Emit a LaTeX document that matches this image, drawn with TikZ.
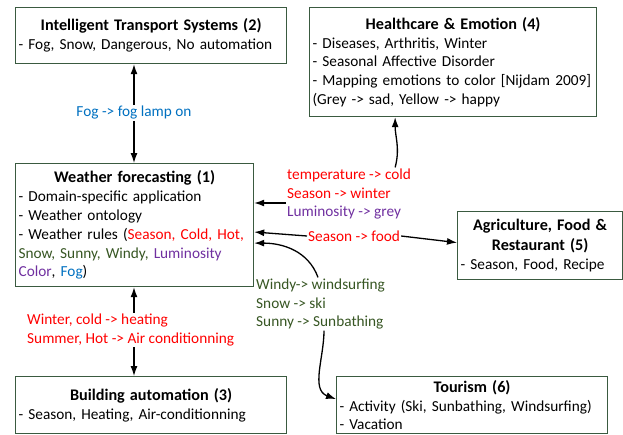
\documentclass[tikz,border=0pt]{standalone}
\usepackage{fontspec}
\setmainfont{Carlito}
\usetikzlibrary{arrows.meta,positioning}

\definecolor{boxline}{HTML}{3A5A40}
\definecolor{rulered}{HTML}{FF0000}
\definecolor{rulepurple}{HTML}{7030A0}
\definecolor{ruleblue}{HTML}{0070C0}
\definecolor{rulegreen}{HTML}{375623}

\newcommand{\boxtitle}[1]{{\centering\fontsize{16.2}{19.5}\selectfont\bfseries #1\par}}

\tikzset{
  areabox/.style={draw=boxline, line width=1.2pt, anchor=north west, align=left,
    inner sep=2.5pt, font=\fontsize{15.3}{18.8}\selectfont},
  rulelabel/.style={align=left, inner sep=1pt, font=\fontsize{15.3}{18.8}\selectfont},
  link/.style={line width=1.3pt, -{Latex[length=10pt,width=7pt]}},
}

\begin{document}
\begin{tikzpicture}[x=1pt,y=-1pt]
  \useasboundingbox (0,0) rectangle (623,434);

  % the six boxes
  \node[areabox, minimum width=238, minimum height=123, text width=232] (weather) at (15,163)
    {\boxtitle{Weather forecasting (1)}
     - Domain-specific application\\
     - Weather ontology\\
     - Weather rules (\textcolor{rulered}{Season, Cold, Hot,}\\
     \textcolor{rulegreen}{Snow, Sunny, Windy,} \textcolor{rulepurple}{Luminosity}\\
     \textcolor{rulepurple}{Color}, \textcolor{ruleblue}{Fog})};
  \node[areabox, minimum width=271, minimum height=56, text width=265] (its) at (15,7)
    {\boxtitle{Intelligent Transport Systems (2)}
     - Fog, Snow, Dangerous, No automation};
  \node[areabox, minimum width=271, minimum height=57, text width=265] (building) at (15,376)
    {\boxtitle{Building automation (3)}
     - Season, Heating, Air-conditionning};
  \node[areabox, minimum width=287, minimum height=109, text width=281] (health) at (309,7)
    {\boxtitle{Healthcare \& Emotion (4)}
     - Diseases, Arthritis, Winter\\
     - Seasonal Affective Disorder\\
     - Mapping emotions to color [Nijdam 2009]\\
     (Grey -> sad, Yellow -> happy};
  \node[areabox, minimum width=165, minimum height=68, text width=159] (agri) at (457,211)
    {\boxtitle{Agriculture, Food \&\\ Restaurant (5)}
     - Season, Food, Recipe};
  \node[areabox, minimum width=271, minimum height=57, text width=265] (tourism) at (336,376)
    {\boxtitle{Tourism (6)}
     - Activity (Ski, Sunbathing, Windsurfing)\\
     - Vacation};

  % rule labels
  \node[rulelabel, text=ruleblue] (fog) at (134,113) {Fog -> fog lamp on};
  \node[rulelabel, anchor=west] (heat) at (26,330)
    {\textcolor{rulered}{Winter, cold -> heating}\\
     \textcolor{rulered}{Summer, Hot -> Air conditionning}};
  \node[rulelabel, anchor=west] (mood) at (286,194)
    {\textcolor{rulered}{temperature -> cold}\\
     \textcolor{rulered}{Season -> winter}\\
     \textcolor{rulepurple}{Luminosity -> grey}};
  \node[rulelabel, anchor=west, text=rulered] (food) at (307,236) {Season -> food};
  \node[rulelabel, anchor=west, text=rulegreen] (sport) at (255,304)
    {Windy-> windsurfing\\ Snow -> ski\\ Sunny -> Sunbathing};

  % connector ends
  \coordinate (moodin) at ([yshift=-9pt]mood.west);
  \coordinate (moodup) at ([xshift=-17pt]mood.north east);
  \coordinate (foodin) at ([yshift=4pt]food.west);
  \coordinate (sportup) at ([xshift=63pt]sport.north west);
  \coordinate (sportdown) at ([xshift=69pt]sport.south west);

  % connectors
  \draw[link] (fog.north) -- (fog.north |- its.south);
  \draw[link] (fog.south) -- (fog.south |- weather.north);
  \draw[link] (heat.north -| fog) -- (fog |- weather.south);
  \draw[link] (heat.south -| fog) -- (fog |- building.north);
  \draw[link] (moodin) -- (moodin -| weather.east);
  \draw[link] (moodup) to[out=75,in=-90] (moodup |- health.south);
  \draw[link] (food.west) -- (foodin -| weather.east);
  \draw[link] (food.east) -- ([yshift=3pt]agri.west);
  \draw[link] (sportup) to[out=110,in=0] ([yshift=-18pt]weather.east);
  \draw[link] (sportdown) to[out=-90,in=160] ([yshift=6pt]tourism.west);
\end{tikzpicture}
\end{document}
